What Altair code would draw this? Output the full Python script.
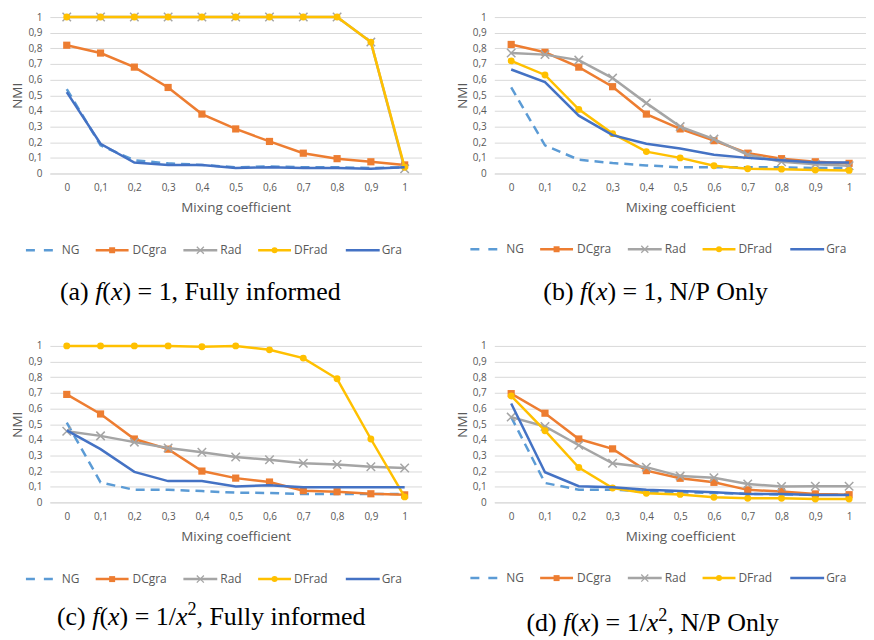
import altair as alt
import pandas as pd

# ---------------- data ----------------
X_LABELS = ["0", "0,1", "0,2", "0,3", "0,4", "0,5", "0,6", "0,7", "0,8", "0,9", "1"]
SERIES = ["NG", "DCgra", "Rad", "DFrad", "Gra"]
COLORS = ["#5B9BD5", "#ED7D31", "#A5A5A5", "#FFC000", "#4472C4"]
MARKERS = [None, "square", "x", "circle", None]

# (a) f(x)=1, Fully informed
A_NG = [0.54, 0.18, 0.085, 0.065, 0.055, 0.04, 0.045, 0.04, 0.04, 0.035, 0.04]
A_DCGRA = [0.82, 0.77, 0.68, 0.55, 0.38, 0.285, 0.205, 0.13, 0.095, 0.075, 0.055]
A_RAD = [1, 1, 1, 1, 1, 1, 1, 1, 1, 0.84, 0.03]
A_DFRAD = [1, 1, 1, 1, 1, 1, 1, 1, 1, 0.84, 0.04]
A_GRA = [0.52, 0.19, 0.07, 0.055, 0.055, 0.035, 0.04, 0.035, 0.035, 0.03, 0.04]

# (b) f(x)=1, N/P Only
B_NG = [0.55, 0.18, 0.088, 0.067, 0.052, 0.04, 0.04, 0.04, 0.04, 0.035, 0.035]
B_DCGRA = [0.825, 0.775, 0.68, 0.555, 0.38, 0.285, 0.21, 0.13, 0.095, 0.075, 0.065]
B_RAD = [0.77, 0.76, 0.725, 0.61, 0.45, 0.3, 0.22, 0.12, 0.075, 0.06, 0.05]
B_DFRAD = [0.72, 0.63, 0.41, 0.255, 0.14, 0.1, 0.05, 0.03, 0.028, 0.022, 0.02]
B_GRA = [0.665, 0.585, 0.37, 0.245, 0.19, 0.16, 0.12, 0.1, 0.085, 0.07, 0.07]

# (c) f(x)=1/x^2, Fully informed
C_NG = [0.51, 0.128, 0.08, 0.08, 0.072, 0.062, 0.06, 0.053, 0.053, 0.053, 0.053]
C_DCGRA = [0.69, 0.565, 0.405, 0.34, 0.2, 0.155, 0.13, 0.075, 0.068, 0.055, 0.048]
C_RAD = [0.455, 0.425, 0.385, 0.348, 0.32, 0.29, 0.272, 0.25, 0.242, 0.228, 0.22]
C_DFRAD = [1, 1, 1, 1, 0.995, 1, 0.975, 0.922, 0.79, 0.405, 0.035]
C_GRA = [0.46, 0.34, 0.195, 0.136, 0.136, 0.102, 0.11, 0.096, 0.096, 0.096, 0.096]

# (d) f(x)=1/x^2, N/P Only
D_NG = [0.545, 0.124, 0.081, 0.081, 0.069, 0.064, 0.06, 0.055, 0.05, 0.05, 0.05]
D_DCGRA = [0.695, 0.57, 0.405, 0.342, 0.203, 0.154, 0.128, 0.08, 0.069, 0.054, 0.049]
D_RAD = [0.545, 0.485, 0.365, 0.25, 0.225, 0.168, 0.157, 0.118, 0.101, 0.103, 0.103]
D_DFRAD = [0.68, 0.458, 0.223, 0.092, 0.058, 0.051, 0.032, 0.026, 0.026, 0.021, 0.021]
D_GRA = [0.632, 0.193, 0.103, 0.096, 0.081, 0.073, 0.064, 0.054, 0.054, 0.047, 0.047]

# captions: (text, style) with style R = roman, I = italic, S = superscript
CAP_A = [("(a) ", "R"), ("f", "I"), ("(", "R"), ("x", "I"), (")", "R"), (" = 1, Fully informed", "R")]
CAP_B = [("(b) ", "R"), ("f", "I"), ("(", "R"), ("x", "I"), (")", "R"), (" = 1, N/P Only", "R")]
CAP_C = [("(c) ", "R"), ("f", "I"), ("(", "R"), ("x", "I"), (")", "R"), (" = 1/", "R"), ("x", "I"),
         ("2", "S"), (", Fully informed", "R")]
CAP_D = [("(d) ", "R"), ("f", "I"), ("(", "R"), ("x", "I"), (")", "R"), (" = 1/", "R"), ("x", "I"),
         ("2", "S"), (", N/P Only", "R")]

# ---------------- layout / style ----------------
W, H = 373, 157
AXIS_GRAY = "#595959"
GRID = "#d9d9d9"
LINE_W = 2.5
XPATH = "M-1,-1L1,1M-1,1L1,-1"
LEG_SYM_X = [-24, 46, 134, 209, 297]
LEG_SYM_LEN = [28, 33, 34, 33, 34]
LEG_TXT_X = [12, 83, 171, 245, 333]
CAP_SIZE = 26

# Times / Liberation Serif advance widths (per 1000 em)
TW_R = {" ": 250, "(": 333, ")": 333, ",": 250, "/": 278, "1": 500, "2": 500, "=": 564,
        "F": 556, "N": 722, "O": 722, "P": 556, "a": 444, "b": 500, "c": 444, "d": 500,
        "e": 444, "f": 333, "i": 278, "l": 278, "m": 778, "n": 500, "o": 500, "r": 333,
        "u": 500, "y": 500}
TW_I = {"f": 278, "x": 444}


def seg_width(text, style):
    if style == "I":
        return sum(TW_I.get(ch, 500) for ch in text) * CAP_SIZE / 1000
    if style == "S":
        return sum(TW_R.get(ch, 500) for ch in text) * CAP_SIZE * 0.7 / 1000
    return sum(TW_R.get(ch, 500) for ch in text) * CAP_SIZE / 1000


DUMMY = pd.DataFrame({"k": [0]})


def caption_layers(segments, center, base):
    total = sum(seg_width(t, s) for t, s in segments)
    cur = center - total / 2
    out = []
    for text, style in segments:
        pos = cur
        word = ""
        word_x = pos
        for ch in text + "\0":
            if ch in (" ", "\0"):
                if word:
                    size = CAP_SIZE * (0.7 if style == "S" else 1)
                    yb = base - (10 if style == "S" else 0)
                    out.append(
                        alt.Chart(DUMMY).mark_text(
                            align="left", baseline="alphabetic", font="Liberation Serif",
                            fontSize=size, fontStyle="italic" if style == "I" else "normal",
                            color="black",
                        ).encode(x=alt.value(word_x), y=alt.value(yb), text=alt.value(word))
                    )
                    word = ""
                if ch == " ":
                    pos += seg_width(" ", style)
                word_x = pos
            else:
                if not word:
                    word_x = pos
                word += ch
                pos += seg_width(ch, style)
        cur += seg_width(text, style)
    return out


def panel(vals, caption, cap_center, cap_base, leg_y):
    x_enc = alt.X(
        "x:N", sort=X_LABELS,
        scale=alt.Scale(domain=X_LABELS, type="point", padding=0.5),
        axis=alt.Axis(title="Mixing coefficient", labelAngle=0, ticks=False, domain=True,
                      domainColor=GRID, domainWidth=1, grid=False, labelPadding=9, titlePadding=8),
    )
    y_enc = alt.Y(
        "v:Q", scale=alt.Scale(domain=[0, 1], nice=False),
        axis=alt.Axis(title="NMI", values=[i / 10 for i in range(11)], grid=True, ticks=False,
                      domain=False, labelPadding=8,
                      labelExpr="replace(format(datum.value, '.1~f'), '.', ',')", titlePadding=3),
    )
    layers = []
    for s, c, m, v in zip(SERIES, COLORS, MARKERS, vals):
        df = pd.DataFrame({"x": X_LABELS, "v": v})
        base = alt.Chart(df)
        kw = dict(color=c, strokeWidth=LINE_W)
        if s == "NG":
            kw["strokeDash"] = [9, 6]
        layers.append(base.mark_line(**kw).encode(x=x_enc, y=y_enc))
        if m == "square":
            layers.append(base.mark_point(shape="square", filled=True, size=52, color=c, opacity=1)
                          .encode(x=x_enc, y=y_enc))
        elif m == "x":
            layers.append(base.mark_point(shape=XPATH, filled=False, size=72, color=c, opacity=1,
                                          strokeWidth=1.5).encode(x=x_enc, y=y_enc))
        elif m == "circle":
            layers.append(base.mark_point(shape="circle", filled=True, size=48, color=c, opacity=1)
                          .encode(x=x_enc, y=y_enc))
    # legend
    for i, (s, c, m) in enumerate(zip(SERIES, COLORS, MARKERS)):
        sx, ln = LEG_SYM_X[i], LEG_SYM_LEN[i]
        kw = dict(color=c, strokeWidth=LINE_W)
        if s == "NG":
            kw["strokeDash"] = [9, 9]
        layers.append(alt.Chart(DUMMY).mark_rule(**kw).encode(
            x=alt.value(sx), x2=alt.value(sx + ln), y=alt.value(leg_y)))
        mx = sx + ln / 2
        if m == "square":
            layers.append(alt.Chart(DUMMY).mark_point(shape="square", filled=True, size=36, color=c, opacity=1)
                          .encode(x=alt.value(mx), y=alt.value(leg_y)))
        elif m == "x":
            layers.append(alt.Chart(DUMMY).mark_point(shape=XPATH, filled=False, size=50, color=c, opacity=1,
                                                      strokeWidth=1.3)
                          .encode(x=alt.value(mx), y=alt.value(leg_y)))
        elif m == "circle":
            layers.append(alt.Chart(DUMMY).mark_point(shape="circle", filled=True, size=36, color=c, opacity=1)
                          .encode(x=alt.value(mx), y=alt.value(leg_y)))
        layers.append(alt.Chart(DUMMY).mark_text(
            align="left", baseline="middle", font="Open Sans", fontSize=12, color=AXIS_GRAY
        ).encode(x=alt.value(LEG_TXT_X[i]), y=alt.value(leg_y), text=alt.value(s)))
    layers += caption_layers(caption, cap_center, cap_base)
    return alt.layer(*layers).properties(width=W, height=H)


pa = panel([A_NG, A_DCGRA, A_RAD, A_DFRAD, A_GRA], CAP_A, 151, 284, 234)
pb = panel([B_NG, B_DCGRA, B_RAD, B_DFRAD, B_GRA], CAP_B, 162, 284, 233)
pc = panel([C_NG, C_DCGRA, C_RAD, C_DFRAD, C_GRA], CAP_C, 162, 280, 234)
pd_ = panel([D_NG, D_DCGRA, D_RAD, D_DFRAD, D_GRA], CAP_D, 159, 286, 233)

chart = alt.vconcat(
    alt.hconcat(pa, pb, spacing=33),
    alt.hconcat(pc, pd_, spacing=33),
    spacing=36,
).properties(
    padding={"left": 2, "top": 0, "right": 0, "bottom": 0}, background="white"
).configure_view(stroke=None).configure_axis(
    labelFont="Open Sans", titleFont="Open Sans", labelColor=AXIS_GRAY, titleColor=AXIS_GRAY,
    labelFontSize=10, titleFontSize=13.5, titleFontWeight="normal", gridColor=GRID, gridWidth=1,
)

chart.save("out.html", embed_options={"renderer": "svg", "actions": False})
